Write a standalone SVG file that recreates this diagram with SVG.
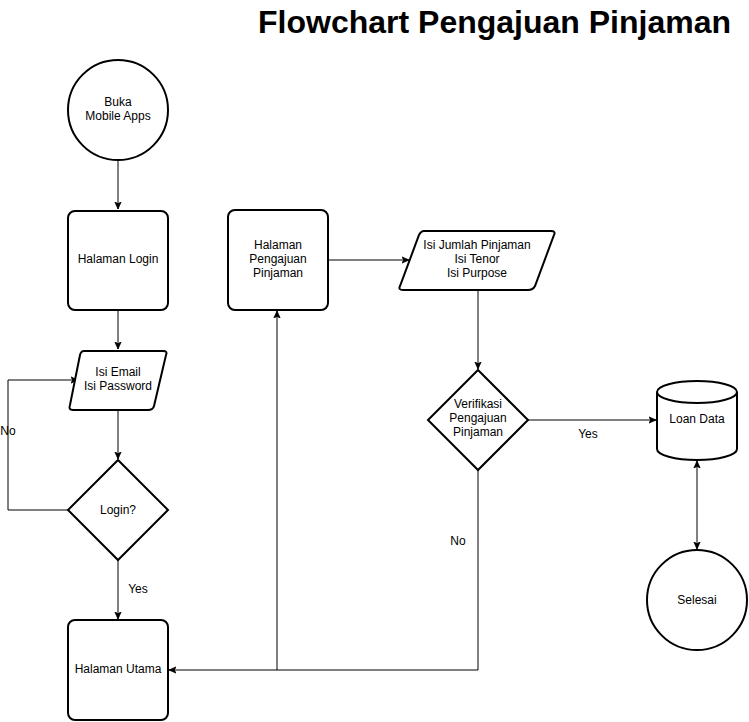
<svg xmlns="http://www.w3.org/2000/svg" width="749" height="722" viewBox="0 0 749 722">
<style>
.n{fill:#fff;stroke:#000;stroke-width:2}
.c{fill:none;stroke:#000;stroke-width:1}
text{font-family:"Liberation Sans",Arial,Helvetica,sans-serif;font-size:12px;fill:#000}
.t{text-anchor:middle}
</style>
<defs>
<marker id="a" viewBox="0 0 10 10" refX="9" refY="5" markerWidth="8" markerHeight="8" orient="auto-start-reverse" markerUnits="userSpaceOnUse">
<path d="M0,1 L9,5 L0,9 L2.5,5 Z" fill="#000" stroke="#000" stroke-width="1"/>
</marker>
</defs>
<rect width="749" height="722" fill="#fff"/>
<text x="731" y="33" style="font-size:32px;font-weight:bold;text-anchor:end">Flowchart Pengajuan Pinjaman</text>
<g id="connectors">
<path class="c" d="M118,160 V209" marker-end="url(#a)"/>
<path class="c" d="M118,310 V349" marker-end="url(#a)"/>
<path class="c" d="M118,410 V459" marker-end="url(#a)"/>
<path class="c" d="M68,510 H8 V380 H78" marker-end="url(#a)"/>
<path class="c" d="M118,560 V619" marker-end="url(#a)"/>
<path class="c" d="M478,470 V670 H169" marker-end="url(#a)"/>
<path class="c" d="M277,670 V311" marker-end="url(#a)"/>
<path class="c" d="M328,260 H409" marker-end="url(#a)"/>
<path class="c" d="M478,290 V369" marker-end="url(#a)"/>
<path class="c" d="M528,420 H656" marker-end="url(#a)"/>
<path class="c" d="M697,461 V549" marker-start="url(#a)" marker-end="url(#a)"/>
<text x="8" y="435" class="t">No</text>
<text x="138" y="593" class="t">Yes</text>
<text x="588" y="438" class="t">Yes</text>
<text x="458" y="545" class="t">No</text>
</g>
<g id="buka">
<circle class="n" cx="118" cy="110" r="50"/>
<text x="118" y="106" class="t">Buka</text>
<text x="118" y="120" class="t">Mobile Apps</text>
</g>
<g id="login-page">
<rect class="n" x="68" y="211" width="100" height="99" rx="7"/>
<text x="118" y="263" class="t">Halaman Login</text>
</g>
<g id="isi-email">
<path class="n" d="M84,351 H163 Q168,351 166,355 L154,406 Q153,410 148,410 H73 Q68,410 70,405 L80,355 Q81,351 84,351 Z"/>
<text x="118" y="376" class="t">Isi Email</text>
<text x="118" y="390" class="t">Isi Password</text>
</g>
<g id="login-decision">
<path class="n" d="M118,460 L168,510 L118,560 L68,510 Z"/>
<text x="118" y="514" class="t">Login?</text>
</g>
<g id="halaman-utama">
<rect class="n" x="68" y="620" width="100" height="100" rx="7"/>
<text x="118" y="673" class="t">Halaman Utama</text>
</g>
<g id="pengajuan-page">
<rect class="n" x="228" y="210" width="100" height="100" rx="7"/>
<text x="278" y="249" class="t">Halaman</text>
<text x="278" y="263" class="t">Pengajuan</text>
<text x="278" y="277" class="t">Pinjaman</text>
</g>
<g id="isi-jumlah">
<path class="n" d="M424,231 H551 Q556,231 554,235 L535,286 Q533,290 528,290 H403 Q398,290 400,286 L419,235 Q421,231 424,231 Z"/>
<text x="477" y="249" class="t">Isi Jumlah Pinjaman</text>
<text x="477" y="263" class="t">Isi Tenor</text>
<text x="477" y="277" class="t">Isi Purpose</text>
</g>
<g id="verifikasi">
<path class="n" d="M478,370 L528,420 L478,470 L428,420 Z"/>
<text x="478" y="408" class="t">Verifikasi</text>
<text x="478" y="422" class="t">Pengajuan</text>
<text x="478" y="436" class="t">Pinjaman</text>
</g>
<g id="loan-data">
<path class="n" d="M657,392 A40,11 0 0 1 737,392 V449 A40,11 0 0 1 657,449 Z"/>
<path class="n" d="M657,392 A40,11 0 0 0 737,392" fill="none"/>
<text x="697" y="423" class="t">Loan Data</text>
</g>
<g id="selesai">
<circle class="n" cx="697" cy="600" r="50"/>
<text x="697" y="604" class="t">Selesai</text>
</g>
</svg>
